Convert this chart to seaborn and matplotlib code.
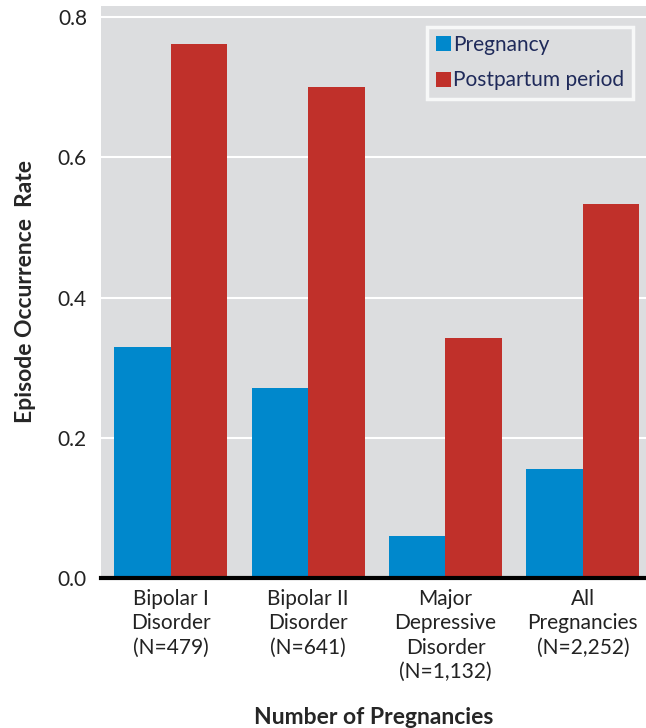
import matplotlib
matplotlib.use("Agg")
import matplotlib.pyplot as plt
import seaborn as sns
import pandas as pd

categories = ["Bipolar I\nDisorder\n(N=479)", "Bipolar II\nDisorder\n(N=641)",
              "Major\nDepressive\nDisorder\n(N=1,132)", "All\nPregnancies\n(N=2,252)"]
pregnancy = [0.330, 0.271, 0.060, 0.155]
postpartum = [0.762, 0.700, 0.342, 0.533]
series = ["Pregnancy", "Postpartum period"]
colors = ["#0088cc", "#c0302a"]

df = pd.DataFrame({
    "cat": categories * 2,
    "rate": pregnancy + postpartum,
    "series": [series[0]] * 4 + [series[1]] * 4,
})

sns.set_theme(style="dark")
plt.rcParams['font.family'] = ['Lato', 'DejaVu Sans']

fig = plt.figure(figsize=(6.46, 7.28), dpi=100)
ax = fig.add_axes([0.156, 0.206, 0.844, 0.786])
ax.set_facecolor("#dcdddf")
ax.set_axisbelow(True)

sns.barplot(data=df, x="cat", y="rate", hue="series", palette=colors,
            width=0.825, gap=0, saturation=1, ax=ax, edgecolor="none", linewidth=0)

ax.set_ylim(0, 0.816)
ax.set_xlim(-0.51, 3.46)
ax.set_yticks([0.0, 0.2, 0.4, 0.6, 0.8])
ax.set_yticklabels(["0.0", "0.2", "0.4", "0.6", "0.8"])
ax.yaxis.grid(True, color="white", linewidth=1.5)
ax.xaxis.grid(False)
for s in ["top", "right", "left"]:
    ax.spines[s].set_visible(False)
ax.spines["bottom"].set_visible(True)
ax.spines["bottom"].set_color("black")
ax.spines["bottom"].set_linewidth(3)
ax.tick_params(axis="y", length=4, width=1.5, color="white", labelsize=15, labelcolor="#222222", pad=6, left=True)
ax.tick_params(axis="x", length=0, labelsize=15, labelcolor="#222222", pad=8)
for t in ax.get_xticklabels():
    t.set_linespacing(1.27)

ax.set_xlabel("Number of Pregnancies", fontsize=16.5, fontweight="bold", labelpad=18)
ax.set_ylabel("Episode Occurrence  Rate", fontsize=16.5, fontweight="bold", labelpad=16)

leg = ax.legend(loc="upper right", bbox_to_anchor=(0.995, 0.982), frameon=True, fontsize=15,
                handlelength=0.75, handleheight=0.75, handletextpad=0.1, borderpad=0.4,
                labelspacing=0.75, fancybox=False)
leg.get_frame().set_facecolor("#dcdddf")
leg.get_frame().set_edgecolor("white")
leg.get_frame().set_linewidth(2.5)
for t in leg.get_texts():
    t.set_color("#1f2a5a")

fig.savefig("out.png", dpi=100)
